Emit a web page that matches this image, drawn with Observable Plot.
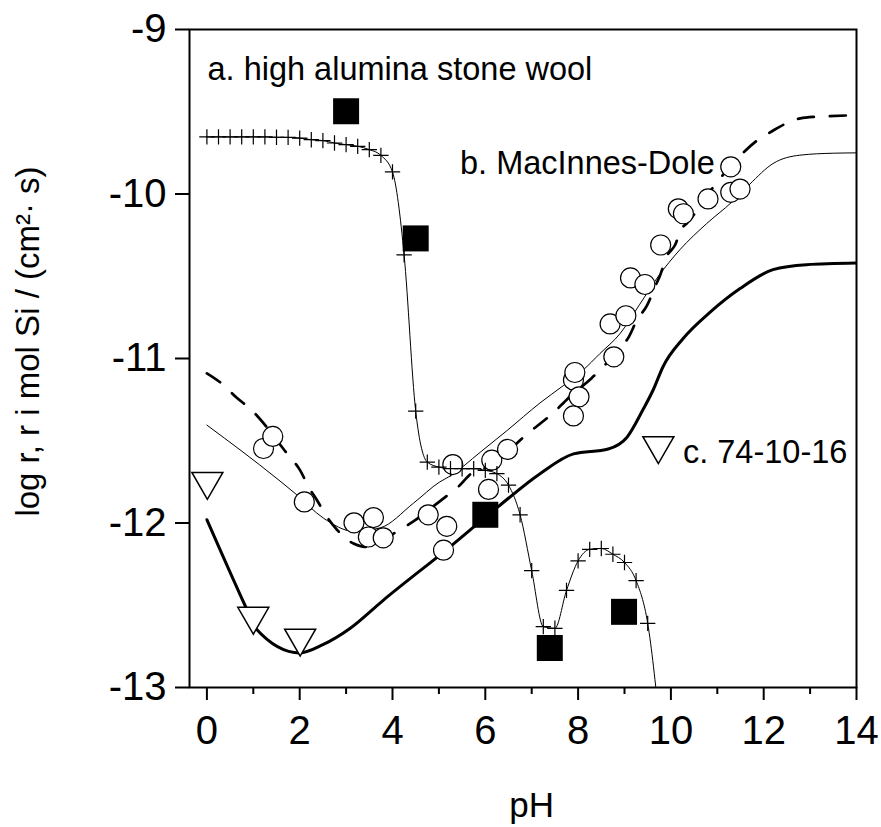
<!DOCTYPE html>
<html>
<head>
<meta charset="utf-8">
<script src="https://cdn.jsdelivr.net/npm/d3@7"></script>
<script src="https://cdn.jsdelivr.net/npm/@observablehq/plot@0.6"></script>
<style>
  html, body { margin: 0; padding: 0; background: #fff; }
  #chart svg { display: block; }
</style>
</head>
<body>
<div id="chart"></div>
<script>
// a. high alumina stone wool — measured rates (filled squares)
const stonePH   = [3.0, 4.5, 6.0, 7.39, 8.99];
const stoneLogR = [-9.497, -10.27, -11.95, -12.76, -12.54];

// a. model curve, evaluated every 0.25 pH (crosses)
const modelApH = [0, 0.25, 0.5, 0.75, 1.0, 1.25, 1.5, 1.75, 2.0, 2.25, 2.5, 2.75, 3.0, 3.25, 3.5, 3.75,
                  4.0, 4.25, 4.5, 4.75, 5.0, 5.25, 5.5, 5.75, 6.0, 6.25, 6.5, 6.75, 7.0, 7.25, 7.5, 7.75,
                  8.0, 8.25, 8.5, 8.75, 9.0, 9.25, 9.5, 9.75];
const modelALogR = [-9.653, -9.653, -9.653, -9.653, -9.653, -9.653, -9.655, -9.656, -9.66, -9.67, -9.675, -9.69,
                    -9.70, -9.71, -9.73, -9.765, -9.866, -10.37, -11.32, -11.63, -11.66, -11.67, -11.67, -11.67,
                    -11.68, -11.70, -11.77, -11.95, -12.29, -12.63, -12.64, -12.41, -12.23, -12.16, -12.155, -12.19,
                    -12.24, -12.35, -12.61, -13.2];

// b. MacInnes-Dole glass — measured rates (open circles)
const mdPH   = [1.22, 1.42, 2.10, 3.17, 3.59, 3.48, 3.80, 4.77, 5.17, 5.10, 5.30, 6.14, 6.48, 6.07,
                7.90, 7.93, 8.02, 7.90, 8.77, 8.69, 9.03, 9.13, 9.44, 9.78, 10.16, 10.27, 10.80, 11.29, 11.49, 11.29];
const mdLogR = [-11.547, -11.474, -11.872, -11.999, -11.967, -12.085, -12.09, -11.95, -12.02, -12.165, -11.645,
                -11.618, -11.553, -11.796, -11.13, -11.085, -11.233, -11.349, -10.99, -10.79, -10.74, -10.51,
                -10.55, -10.31, -10.09, -10.12, -10.03, -9.99, -9.97, -9.835];

// b. model curve (thin line)
const mdModelPH   = [0, 1.51, 1.90, 2.51, 3.16, 3.73, 4.45, 5.02, 5.24, 5.89, 6.46, 7.18, 7.68, 8.11, 8.47,
                     8.90, 9.33, 9.73, 10.19, 10.77, 11.31, 11.70, 12.2, 12.78, 13.5, 14];
const mdModelLogR = [-11.405, -11.73, -11.82, -11.97, -12.05, -12.03, -11.88, -11.75, -11.715, -11.57, -11.44,
                     -11.27, -11.165, -11.07, -10.97, -10.85, -10.67, -10.50, -10.34, -10.18, -10.05, -9.94,
                     -9.815, -9.764, -9.752, -9.75];

// dashed model curve
const dashPH   = [0, 0.31, 0.65, 0.95, 1.76, 2.01, 2.19, 2.37, 2.58, 2.80, 3.16, 3.41, 4.05, 4.45, 5.10, 5.38,
                  5.74, 5.96, 7.0, 7.32, 7.65, 7.79, 8.29, 8.47, 8.90, 9.10, 9.26, 9.48, 9.68, 9.76, 9.91, 10.09,
                  10.23, 10.34, 10.88, 11.45, 11.88, 12.17, 12.49, 12.79, 13.12, 13.42, 14];
const dashLogR = [-11.09, -11.15, -11.24, -11.31, -11.59, -11.68, -11.78, -11.86, -11.96, -12.04, -12.125, -12.145,
                  -12.06, -11.99, -11.85, -11.79, -11.69, -11.67, -11.436, -11.365, -11.28, -11.24, -11.12, -11.07,
                  -10.94, -10.865, -10.77, -10.68, -10.55, -10.50, -10.38, -10.31, -10.21, -10.18, -9.97, -9.78,
                  -9.67, -9.62, -9.57, -9.54, -9.53, -9.527, -9.52];

// c. 74-10-16 glass — measured rates (open triangles) and model curve (thick line)
const glassCPH   = [0.01, 1.0, 2.01];
const glassCLogR = [-11.747, -12.567, -12.70];
const modelCPH   = [0, 0.82, 1.05, 2.0, 2.5, 3.09, 3.8, 5.24, 6.28, 7.18, 7.9, 8.65, 9.05, 9.40, 9.62, 9.83, 10.26,
                    10.84, 11.49, 12.2, 12.92, 14];
const modelCLogR = [-11.98, -12.50, -12.64, -12.79, -12.74, -12.64, -12.47, -12.145, -11.90, -11.70, -11.58, -11.55,
                    -11.48, -11.31, -11.19, -11.05, -10.88, -10.72, -10.575, -10.46, -10.43, -10.42];

// axis ticks
const xTicks = [0, 2, 4, 6, 8, 10, 12, 14];
const xMinorTicks = [1, 3, 5, 7, 9, 11, 13];
const yTicks = [-13, -12, -11, -10, -9];

// series labels, anchored in pH / log r units
const notes = [
  {pH: 0.013, logR: -9.304, label: "a. high alumina stone wool"},
  {pH: 5.455, logR: -9.88, label: "b. MacInnes-Dole"},
  {pH: 10.26, logR: -11.638, label: "c. 74-10-16"}
];
const legendC = [{pH: 9.73, logR: -11.53}];

const xLabel = "pH";
const yLabel = "log r, r i mol Si / (cm²· s)";

const rows = (xs, ys) => xs.map((x, i) => ({pH: x, logR: ys[i]}));
const stone = rows(stonePH, stoneLogR);
const modelA = rows(modelApH, modelALogR);
const md = rows(mdPH, mdLogR);
const mdModel = rows(mdModelPH, mdModelLogR);
const dashed = rows(dashPH, dashLogR);
const glassC = rows(glassCPH, glassCLogR);
const modelC = rows(modelCPH, modelCLogR);

// downward-pointing triangle, centred on its centroid
const triangleDown = {
  draw(context, size) {
    const h = Math.sqrt(size / (3 * Math.sqrt(3)));
    context.moveTo(0, 2 * h);
    context.lineTo(-Math.sqrt(3) * h, -h);
    context.lineTo(Math.sqrt(3) * h, -h);
    context.closePath();
  }
};

const font = "'Liberation Sans', Arial, Helvetica, sans-serif";

const chart = Plot.plot({
  width: 881,
  height: 827,
  marginLeft: 189,
  marginRight: 25,
  marginTop: 29,
  marginBottom: 140,
  x: {domain: [-0.375, 14]},
  y: {domain: [-13, -9]},
  style: {fontFamily: font, background: "#fff", color: "#000", overflow: "visible"},
  marks: [
    Plot.axisX(xTicks, {tickSize: 13, tickPadding: 15, fontSize: 40, strokeWidth: 2,
                        tickFormat: (d) => String(d), label: null}),
    Plot.axisX(xMinorTicks, {tickSize: 7, strokeWidth: 2, tickFormat: () => "", label: null}),
    Plot.axisY(yTicks, {tickSize: 14, tickPadding: 9, fontSize: 40, strokeWidth: 2,
                        tickFormat: (d) => String(d), label: null}),

    // model curves
    Plot.line(dashed, {x: "pH", y: "logR", stroke: "#000", strokeWidth: 2.7,
                       strokeDasharray: "16,16", curve: "monotone-x", clip: true}),
    Plot.line(mdModel, {x: "pH", y: "logR", stroke: "#000", strokeWidth: 1, curve: "monotone-x", clip: true}),
    Plot.line(modelC, {x: "pH", y: "logR", stroke: "#000", strokeWidth: 3, curve: "monotone-x", clip: true}),
    Plot.line(modelA, {x: "pH", y: "logR", stroke: "#000", strokeWidth: 1, curve: "monotone-x", clip: true}),

    // measurements
    Plot.dot(md, {x: "pH", y: "logR", r: 10, fill: "#fff", stroke: "#000", strokeWidth: 1.2}),
    Plot.dot(glassC, {x: "pH", y: "logR", symbol: triangleDown, r: 11.5, fill: "#fff", stroke: "#000", strokeWidth: 1.5}),
    Plot.dot(modelA, {x: "pH", y: "logR", symbol: "plus", r: 5, stroke: "#000", strokeWidth: 1.2, clip: true}),
    Plot.dot(stone, {x: "pH", y: "logR", symbol: "square", r: 14.67, fill: "#000", stroke: "none"}),

    // labels
    Plot.dot(legendC, {x: "pH", y: "logR", symbol: triangleDown, r: 11.5, fill: "#fff", stroke: "#000", strokeWidth: 1.5}),
    Plot.text(notes, {x: "pH", y: "logR", text: "label", textAnchor: "start", lineAnchor: "bottom",
                      fontSize: 32.5, fill: "#000"}),
    Plot.text([xLabel], {text: (d) => d, frameAnchor: "bottom", lineAnchor: "bottom",
                         dx: 8.7, dy: 129.4, fontSize: 35, fill: "#000"}),
    Plot.text([yLabel], {text: (d) => d, frameAnchor: "left", rotate: -90, textAnchor: "middle",
                         lineAnchor: "bottom", dx: -151, dy: -17, fontSize: 33, fill: "#000"}),

    Plot.frame({stroke: "#000", strokeWidth: 2})
  ]
});

document.getElementById("chart").append(chart);
</script>
</body>
</html>
